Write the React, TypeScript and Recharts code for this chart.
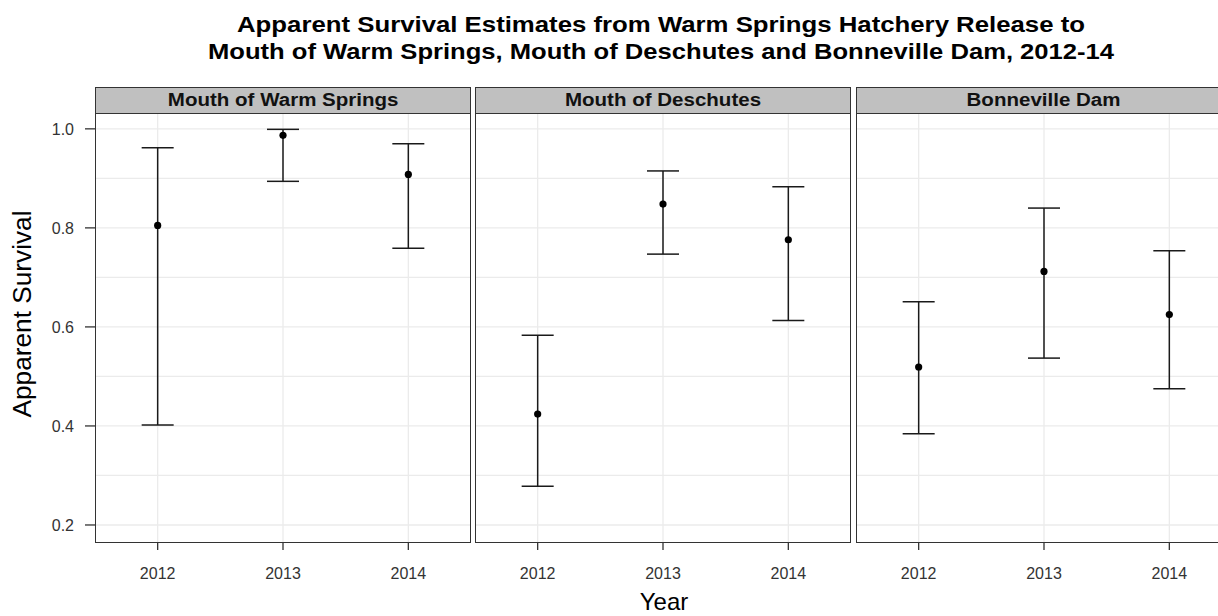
import React from 'react';
import { ComposedChart, Scatter, ErrorBar, XAxis, YAxis, CartesianGrid } from 'recharts';

const years = [2012, 2013, 2014];
const panelNames = ['Mouth of Warm Springs', 'Mouth of Deschutes', 'Bonneville Dam'];

// point estimates and confidence bounds
const warmSpringsEst = [0.805, 0.987, 0.908];
const warmSpringsLow = [0.402, 0.894, 0.759];
const warmSpringsHigh = [0.962, 0.999, 0.970];

const deschutesEst = [0.424, 0.848, 0.776];
const deschutesLow = [0.278, 0.747, 0.613];
const deschutesHigh = [0.583, 0.915, 0.883];

const bonnevilleEst = [0.519, 0.712, 0.625];
const bonnevilleLow = [0.384, 0.537, 0.475];
const bonnevilleHigh = [0.651, 0.840, 0.754];

const yTicks = [0.2, 0.4, 0.6, 0.8, 1.0];
const yGridLines = [0.2, 0.3, 0.4, 0.5, 0.6, 0.7, 0.8, 0.9, 1.0];
const yDomain: [number, number] = [0.1636, 1.032];

const FONT = '"Liberation Sans", Arial, Helvetica, sans-serif';
const PLOT_TOP = 113;
const PLOT_H = 430;
const PLOT_W = 376;
const AXIS_H = 50;
const Y_AXIS_W = 95;
const panelLefts = [95, 475, 856];

interface Row {
  year: number;
  est: number;
  err: [number, number];
}

function buildRows(est: number[], low: number[], high: number[]): Row[] {
  return years.map((year, i) => ({
    year,
    est: est[i],
    err: [est[i] - low[i], high[i] - est[i]],
  }));
}

const panelRows = [
  buildRows(warmSpringsEst, warmSpringsLow, warmSpringsHigh),
  buildRows(deschutesEst, deschutesLow, deschutesHigh),
  buildRows(bonnevilleEst, bonnevilleLow, bonnevilleHigh),
];

const Dot = (props: any) => <circle cx={props.cx} cy={props.cy} r={3.6} fill="#000" />;

function Panel({ index }: { index: number }) {
  const showY = index === 0;
  const left = panelLefts[index];
  const chartLeft = showY ? left - Y_AXIS_W : left;
  const width = showY ? PLOT_W + Y_AXIS_W : PLOT_W;

  return (
    <>
      <div style={{ position: 'absolute', left: chartLeft, top: PLOT_TOP }}>
        <ComposedChart
          width={width}
          height={PLOT_H + AXIS_H}
          data={panelRows[index]}
          margin={{ top: 0, right: 0, bottom: 0, left: 0 }}
        >
          <CartesianGrid
            stroke="#ebebeb"
            strokeWidth={1.3}
            horizontalValues={yGridLines}
            verticalValues={years}
          />
          <XAxis
            dataKey="year"
            type="number"
            domain={[2011.5, 2014.5]}
            ticks={years}
            allowDataOverflow
            height={AXIS_H}
            axisLine={false}
            tickSize={7}
            tickMargin={18}
            tickLine={{ stroke: '#333', strokeWidth: 1.3 }}
            tick={{ fill: '#333', fontSize: 16, fontFamily: FONT }}
          />
          <YAxis
            type="number"
            domain={yDomain}
            allowDataOverflow
            ticks={yTicks}
            hide={!showY}
            width={Y_AXIS_W}
            axisLine={false}
            tickSize={10}
            tickMargin={11}
            tickLine={{ stroke: '#333', strokeWidth: 1.3 }}
            tick={{ fill: '#333', fontSize: 16, fontFamily: FONT }}
            tickFormatter={(v: number) => v.toFixed(1)}
          />
          <Scatter dataKey="est" shape={Dot} isAnimationActive={false}>
            <ErrorBar dataKey="err" direction="y" width={16} stroke="#1a1a1a" strokeWidth={1.5} isAnimationActive={false} />
          </Scatter>
        </ComposedChart>
      </div>
      <div
        style={{
          position: 'absolute',
          left,
          top: PLOT_TOP,
          width: PLOT_W,
          height: PLOT_H,
          border: '1.5px solid #333',
          boxSizing: 'border-box',
          pointerEvents: 'none',
        }}
      />
      <div
        style={{
          position: 'absolute',
          left,
          top: 87,
          width: PLOT_W,
          height: 27,
          background: '#c0c0c0',
          border: '1.5px solid #333',
          boxSizing: 'border-box',
          fontFamily: FONT,
          fontWeight: 'bold',
          fontSize: 18,
          color: '#111',
          textAlign: 'center',
          lineHeight: '24px',
        }}
      >
        <span style={{ display: 'inline-block', transform: 'scaleX(1.14)' }}>{panelNames[index]}</span>
      </div>
    </>
  );
}

export default function App() {
  return (
    <div
      style={{
        position: 'absolute',
        left: 0,
        top: 0,
        width: 1218,
        height: 616,
        overflow: 'hidden',
        background: '#fff',
        fontFamily: FONT,
      }}
    >
      <svg width={1218} height={616} style={{ position: 'absolute', left: 0, top: 0 }}>
        <text
          x={661}
          y={31.5}
          textAnchor="middle"
          fontSize={22}
          fontWeight="bold"
          fontFamily={FONT}
          fill="#000"
          textLength={848}
          lengthAdjust="spacingAndGlyphs"
        >
          Apparent Survival Estimates from Warm Springs Hatchery Release to
        </text>
        <text
          x={661}
          y={59}
          textAnchor="middle"
          fontSize={22}
          fontWeight="bold"
          fontFamily={FONT}
          fill="#000"
          textLength={906}
          lengthAdjust="spacingAndGlyphs"
        >
          Mouth of Warm Springs, Mouth of Deschutes and Bonneville Dam, 2012-14
        </text>
        <text
          x={0}
          y={0}
          transform="translate(31, 314) rotate(-90)"
          textAnchor="middle"
          fontSize={26}
          fontFamily={FONT}
          fill="#000"
          textLength={207}
          lengthAdjust="spacingAndGlyphs"
        >
          Apparent Survival
        </text>
        <text x={664} y={610} textAnchor="middle" fontSize={24} fontFamily={FONT} fill="#000">
          Year
        </text>
      </svg>
      {panelNames.map((_, i) => (
        <Panel key={i} index={i} />
      ))}
    </div>
  );
}
